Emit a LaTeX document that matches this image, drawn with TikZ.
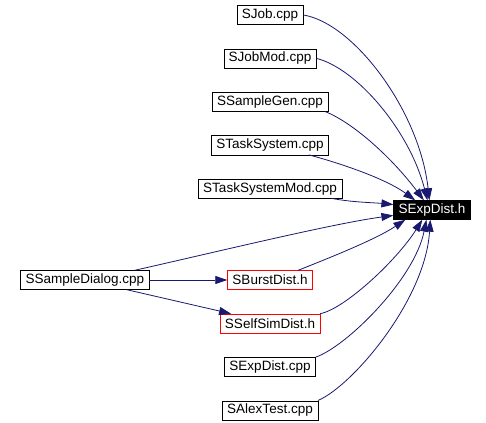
\documentclass[tikz,border=0pt]{standalone}
\usepackage{fontspec}
\setmainfont{Liberation Sans}
\usepackage{tikz}
\usetikzlibrary{arrows.meta,positioning}
\definecolor{EdgeBlue}{HTML}{191970}

\begin{document}
\begin{tikzpicture}[x=1pt, y=1pt, node distance=24pt,
  file/.style={draw=black, fill=white, inner xsep=5pt, inner ysep=0pt,
    minimum height=19pt, font=\fontsize{13.5}{15}\selectfont},
  dep/.style={-{Triangle[length=12pt,width=8pt]}, EdgeBlue, line width=0.8pt}]
  \useasboundingbox (0,0) rectangle (486,-422);
  \node[file] (job) at (270,-15) {SJob.cpp};
  \node[file, below=of job] (jobmod) {SJobMod.cpp};
  \node[file, below=of jobmod] (samplegen) {SSampleGen.cpp};
  \node[file, below=of samplegen] (tasksys) {STaskSystem.cpp};
  \node[file, below=of tasksys] (tasksysmod) {STaskSystemMod.cpp};
  \node[file, draw=red, below=72pt of tasksysmod] (burst) {SBurstDist.h};
  \node[file, draw=red, below=of burst] (selfsim) {SSelfSimDist.h};
  \node[file, below=of selfsim] (expdistcpp) {SExpDist.cpp};
  \node[file, below=of expdistcpp] (alextest) {SAlexTest.cpp};
  \node[file, left=78pt of burst] (dialog) {SSampleDialog.cpp};
  \node[file, fill=black, text=white] (expdisth) at (432,-210) {SExpDist.h};
  % includes of SExpDist.h
  \draw[dep] (job.east) .. controls +(50,-8) and +(-10,90) .. (expdisth.105);
  \draw[dep] (jobmod.east) .. controls +(40,-10) and +(-18,70) .. (expdisth.115);
  \draw[dep] (samplegen.-10) .. controls +(30,-12) and +(-30,40) .. (expdisth.130);
  \draw[dep] (tasksys.-14) .. controls +(30,-8) and +(-30,22) .. (expdisth.150);
  \draw[dep] (tasksysmod.-9) .. controls +(20,-4) and +(-20,2) .. (expdisth.172);
  \draw[dep] (dialog.11) .. controls +(80,18) and +(-60,-8) .. (expdisth.188);
  \draw[dep] (burst.19) .. controls +(30,12) and +(-30,-20) .. (expdisth.200);
  \draw[dep] (selfsim.north east) .. controls +(25,5) and +(-25,-40) .. (expdisth.225);
  \draw[dep] (expdistcpp.north east) .. controls +(30,10) and +(-12,-60) .. (expdisth.240);
  \draw[dep] (alextest.north east) .. controls +(35,15) and +(-5,-80) .. (expdisth.260);
  % includes from SSampleDialog.cpp
  \draw[dep] (dialog.east) -- (burst.west);
  \draw[dep] (dialog.-13) -- (selfsim.166);
\end{tikzpicture}
\end{document}
